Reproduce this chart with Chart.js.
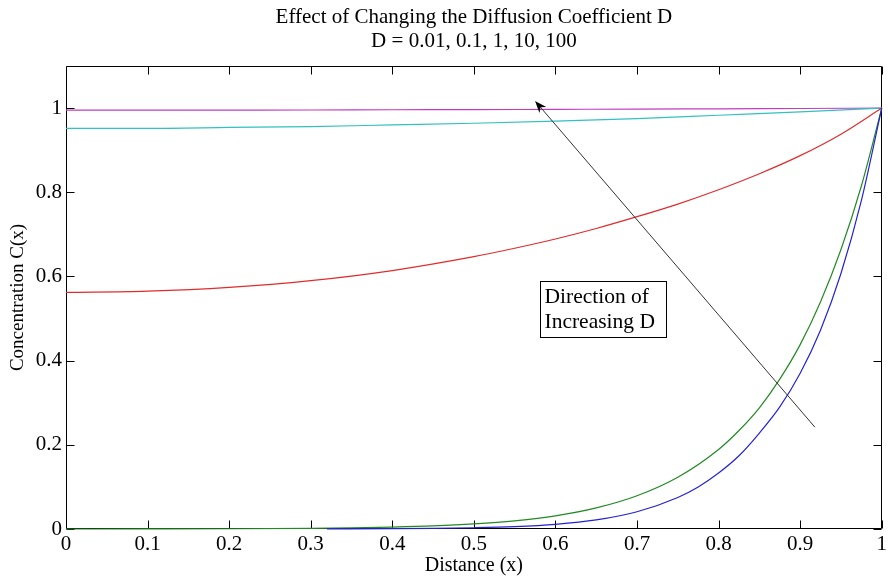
<!DOCTYPE html>
<html>
<head>
<meta charset="utf-8">
<script src="https://cdn.jsdelivr.net/npm/chart.js@4/dist/chart.umd.min.js"></script>
<style>
  html, body { margin: 0; padding: 0; background: #ffffff; }
  #wrap { width: 890px; height: 581px; }
</style>
</head>
<body>
<div id="wrap"><canvas id="c" width="890" height="581"></canvas></div>
<script>
// ---- data ----
const titleLines = ['Effect of Changing the Diffusion Coefficient D', 'D = 0.01, 0.1, 1, 10, 100'];
const xTitle = 'Distance (x)';
const yTitle = 'Concentration C(x)';
const xTickValues = [0, 0.1, 0.2, 0.3, 0.4, 0.5, 0.6, 0.7, 0.8, 0.9, 1];
const yTickValues = [0, 0.2, 0.4, 0.6, 0.8, 1];

const seriesNames = ['D = 0.01', 'D = 0.1', 'D = 1', 'D = 10', 'D = 100'];

const coarseX = [0, 0.1, 0.2, 0.3, 0.4, 0.5, 0.6, 0.7, 0.8, 0.9, 1.0];
const d100Y = [0.995, 0.995, 0.9952, 0.9955, 0.996, 0.9963, 0.997, 0.9975, 0.9983, 0.999, 1.0];
const d10Y  = [0.952, 0.952, 0.954, 0.956, 0.960, 0.964, 0.969, 0.975, 0.983, 0.991, 1.0];

const d1X = [0, 0.1, 0.2, 0.3, 0.4, 0.5, 0.55, 0.6, 0.65, 0.7, 0.75, 0.8, 0.85, 0.9, 0.95, 1.0];
const d1Y = [0.562, 0.565, 0.574, 0.590, 0.614, 0.647, 0.667, 0.689, 0.714, 0.742, 0.772, 0.806, 0.844, 0.887, 0.938, 1.0];

const d01X = [0, 0.1, 0.2, 0.3, 0.35, 0.4, 0.45, 0.5, 0.55, 0.6, 0.65, 0.7, 0.75, 0.8, 0.825, 0.85, 0.875, 0.9, 0.925, 0.95, 0.975, 1.0];
const d01Y = [0, 0.0002, 0.0006, 0.0017, 0.0027, 0.0045, 0.0073, 0.012, 0.0193, 0.031, 0.050, 0.079, 0.123, 0.189, 0.234, 0.288, 0.356, 0.438, 0.540, 0.664, 0.815, 1.0];

const d001X = [0.32, 0.4, 0.45, 0.5, 0.55, 0.6, 0.65, 0.7, 0.75, 0.775, 0.8, 0.825, 0.85, 0.875, 0.9, 0.925, 0.95, 0.975, 1.0];
const d001Y = [0.0004, 0.0008, 0.0016, 0.003, 0.0057, 0.0111, 0.0215, 0.041, 0.075, 0.100, 0.133, 0.174, 0.228, 0.290, 0.37, 0.473, 0.607, 0.78, 1.0];

// annotation (data coordinates)
const arrowFrom = [0.918, 0.242];
const arrowTo = [0.575, 1.017];
const noteLines = ['Direction of', 'Increasing D'];
const noteAt = [0.581, 0.589];

// ---- chart ----
const FONT = '"Liberation Serif", "Times New Roman", serif';
const toPts = (xs, ys) => xs.map((x, i) => ({ x: x, y: ys[i] }));

const lineDs = (label, pts, color) => ({
  label: label,
  data: pts,
  borderColor: color,
  backgroundColor: color,
  borderWidth: 1.2,
  pointRadius: 0,
  fill: false,
  cubicInterpolationMode: 'monotone',
  clip: 2
});

const frameTicks = {
  id: 'frameTicks',
  beforeDatasetsDraw(chart) {
    const { ctx, chartArea: a, scales } = chart;
    const xs = scales.x, ys = scales.y;
    const L = 8;
    ctx.save();
    ctx.strokeStyle = '#000';
    ctx.lineWidth = 1;
    ctx.beginPath();
    const l = Math.round(a.left) + 0.5, r = Math.round(a.right) - 0.5;
    const t = Math.round(a.top) + 0.5, b = Math.round(a.bottom) - 0.5;
    ctx.rect(l, t, r - l, b - t);
    xTickValues.forEach(v => {
      const px = Math.round(xs.getPixelForValue(v)) + 0.5;
      ctx.moveTo(px, b); ctx.lineTo(px, b - L);
      ctx.moveTo(px, t); ctx.lineTo(px, t + L);
    });
    yTickValues.forEach(v => {
      const py = Math.round(ys.getPixelForValue(v)) + 0.5;
      ctx.moveTo(l, py); ctx.lineTo(l + L, py);
      ctx.moveTo(r, py); ctx.lineTo(r - L, py);
    });
    ctx.stroke();
    ctx.restore();
  },
  afterDatasetsDraw(chart) {
    const { ctx, scales } = chart;
    const xs = scales.x, ys = scales.y;
    ctx.save();
    // arrow
    const x0 = xs.getPixelForValue(arrowFrom[0]), y0 = ys.getPixelForValue(arrowFrom[1]);
    const x1 = xs.getPixelForValue(arrowTo[0]), y1 = ys.getPixelForValue(arrowTo[1]);
    const ang = Math.atan2(y1 - y0, x1 - x0);
    const hl = 12, hw = 4.5;
    const c = Math.cos(ang), s = Math.sin(ang);
    ctx.strokeStyle = '#333';
    ctx.lineWidth = 1;
    ctx.beginPath();
    ctx.moveTo(x0, y0);
    ctx.lineTo(x1 - c * hl * 0.7, y1 - s * hl * 0.7);
    ctx.stroke();
    ctx.fillStyle = '#000';
    ctx.beginPath();
    ctx.moveTo(x1, y1);
    ctx.lineTo(x1 - c * hl - s * hw, y1 - s * hl + c * hw);
    ctx.lineTo(x1 - c * hl * 0.7, y1 - s * hl * 0.7);
    ctx.lineTo(x1 - c * hl + s * hw, y1 - s * hl - c * hw);
    ctx.closePath();
    ctx.fill();

    // note box
    ctx.font = '21.5px ' + FONT;
    const bx = Math.round(xs.getPixelForValue(noteAt[0])) + 0.5;
    const by = Math.round(ys.getPixelForValue(noteAt[1])) + 0.5;
    const tw = Math.max(...noteLines.map(t => ctx.measureText(t).width));
    const bw = Math.round(tw + 16), bh = 56;
    ctx.fillStyle = '#fff';
    ctx.fillRect(bx, by, bw, bh);
    ctx.strokeStyle = '#000';
    ctx.strokeRect(bx, by, bw, bh);
    ctx.fillStyle = '#000';
    ctx.textBaseline = 'middle';
    ctx.textAlign = 'left';
    noteLines.forEach((t, i) => ctx.fillText(t, bx + 4, by + 16 + i * 25));
    ctx.restore();
  }
};

new Chart(document.getElementById('c'), {
  type: 'line',
  data: {
    datasets: [
      lineDs(seriesNames[0], toPts(d001X, d001Y), '#2323d2'),
      lineDs(seriesNames[1], toPts(d01X, d01Y), '#238a23'),
      lineDs(seriesNames[2], toPts(d1X, d1Y), '#e02c2c'),
      lineDs(seriesNames[3], toPts(coarseX, d10Y), '#33c0c0'),
      lineDs(seriesNames[4], toPts(coarseX, d100Y), '#c03cc0')
    ]
  },
  options: {
    responsive: false,
    animation: false,
    events: [],
    layout: { padding: { left: 0, right: 5, top: 0, bottom: 0 } },
    plugins: {
      legend: { display: false },
      tooltip: { enabled: false },
      title: {
        display: true,
        fullSize: false,
        text: titleLines,
        color: '#000',
        font: { family: FONT, size: 21, weight: 'normal', lineHeight: '24px' },
        padding: { top: 5, bottom: 13 }
      }
    },
    scales: {
      x: {
        type: 'linear',
        min: 0, max: 1,
        afterBuildTicks: s => { s.ticks = xTickValues.map(v => ({ value: v })); },
        afterFit: s => { s.height = 52; },
        grid: { display: false, drawTicks: false, tickLength: 0 },
        border: { display: false },
        ticks: {
          color: '#000', padding: 3, maxRotation: 0, autoSkip: false,
          font: { family: FONT, size: 21 },
          callback: v => String(v)
        },
        title: {
          display: true, text: xTitle, color: '#000',
          font: { family: FONT, size: 20, lineHeight: 1.2 },
          padding: { top: 0, bottom: 3 }
        }
      },
      y: {
        type: 'linear',
        min: 0, max: 1.1,
        afterBuildTicks: s => { s.ticks = yTickValues.map(v => ({ value: v })); },
        afterFit: s => { s.width = 66; },
        grid: { display: false, drawTicks: false, tickLength: 0 },
        border: { display: false },
        ticks: {
          color: '#000', padding: 4, autoSkip: false,
          font: { family: FONT, size: 21 },
          callback: v => String(v)
        },
        title: {
          display: true, text: yTitle, color: '#000',
          font: { family: FONT, size: 19, lineHeight: 1.2 },
          padding: { top: 7, bottom: 0 }
        }
      }
    }
  },
  plugins: [frameTicks]
});
</script>
</body>
</html>
